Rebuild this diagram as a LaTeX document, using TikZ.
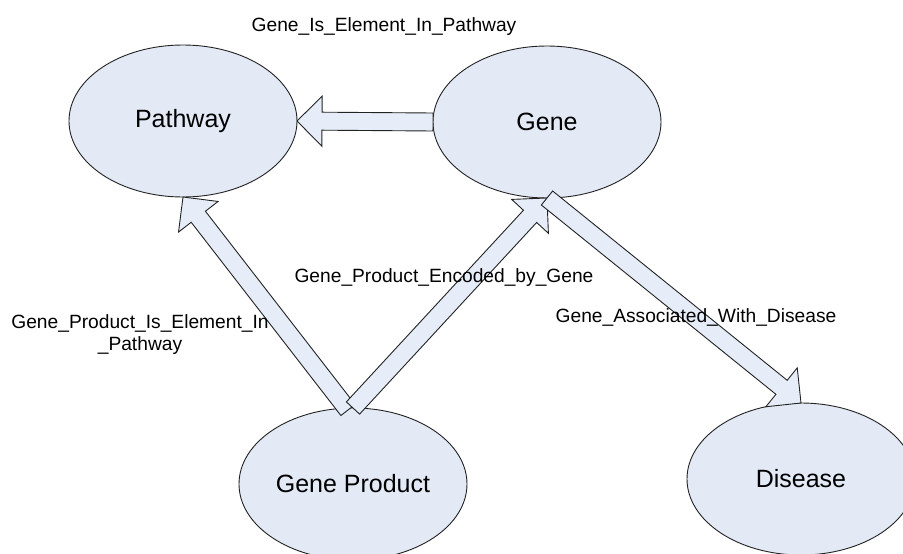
\documentclass[tikz,border=0pt]{standalone}
\usepackage{fontspec}
\setmainfont{Liberation Sans}
\usetikzlibrary{shapes.geometric,calc}
\definecolor{ellfill}{RGB}{227,234,246}
\definecolor{arrfill}{RGB}{230,237,248}
\definecolor{lineclr}{RGB}{35,35,35}
\tikzset{
 entity/.style={ellipse, draw=lineclr, fill=ellfill, line width=0.9pt, minimum width=228pt, minimum height=152pt, inner sep=0pt, outer sep=0pt, font=\fontsize{25}{30}\selectfont},
 blockarrow/.style={draw=lineclr, fill=arrfill, line width=0.9pt, line join=miter},
 rel/.style={font=\fontsize{19.2}{22}\selectfont, inner sep=0pt, anchor=base, align=center}
}
\newcommand\blockarr[2]{%
 \coordinate (hb) at ($(#2)!25pt!(#1)$);
 \draw[blockarrow] ($(#1)!9pt!90:(#2)$) -- ($(hb)!9pt!90:(#2)$) -- ($(hb)!25pt!90:(#2)$) -- (#2) -- ($(hb)!25pt!-90:(#2)$) -- ($(hb)!9pt!-90:(#2)$) -- ($(#1)!9pt!-90:(#2)$) -- cycle;}
\begin{document}
\begin{tikzpicture}[x=1pt,y=-1pt]
\useasboundingbox (0,0) rectangle (903,554);
\fill[white] (0,0) rectangle (903,554);
\node[entity] (pathway) at (183,121) {Pathway};
\node[entity] (gene) at (547,122) {Gene};
\node[entity] (gp) at (353,484) {Gene Product};
\node[entity] (disease) at (801,479) {Disease};
\coordinate (tA) at ([xshift=-5pt,yshift=-2pt]gp.north);
\coordinate (tB) at (gp.north);
\blockarr{gene.west}{pathway.east}
\blockarr{tA}{pathway.south}
\blockarr{tB}{gene.south}
\blockarr{gene.south}{disease.north}
\node[rel] (l1) at (384,31) {Gene\_Is\_Element\_In\_Pathway};
\node[rel] (l2) at (140,350) {Gene\_Product\_Is\_Element\_In\\\_Pathway};
\node[rel] (l3) at (444,282) {Gene\_Product\_Encoded\_by\_Gene};
\node[rel] (l4) at (696,322) {Gene\_Associated\_With\_Disease};
\end{tikzpicture}
\end{document}
